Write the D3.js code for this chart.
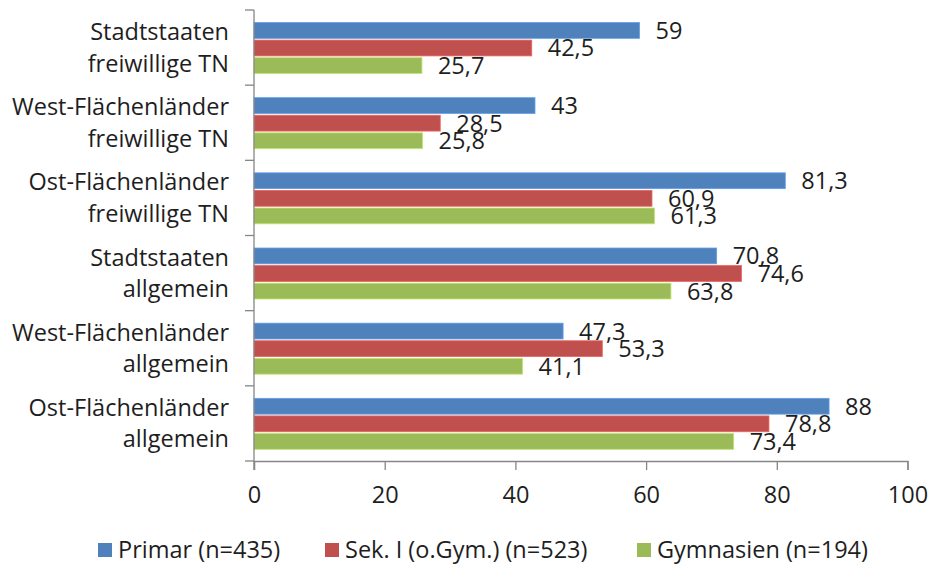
<!DOCTYPE html>
<html>
<head>
<meta charset="utf-8">
<script src="https://cdn.jsdelivr.net/npm/d3@7"></script>
<style>
  html, body { margin: 0; padding: 0; background: #fff; }
  svg { display: block; font-family: "Open Sans", "Noto Sans", sans-serif; }
</style>
</head>
<body>
<svg id="chart" width="930" height="566"></svg>
<script>
// Categories (two-line labels), top to bottom
const categories = [
  ["Stadtstaaten", "freiwillige TN"],
  ["West-Flächenländer", "freiwillige TN"],
  ["Ost-Flächenländer", "freiwillige TN"],
  ["Stadtstaaten", "allgemein"],
  ["West-Flächenländer", "allgemein"],
  ["Ost-Flächenländer", "allgemein"]
];
const seriesNames = ["Primar (n=435)", "Sek. I (o.Gym.) (n=523)", "Gymnasien (n=194)"];
const primar     = [59, 43, 81.3, 70.8, 47.3, 88];
const sekI       = [42.5, 28.5, 60.9, 74.6, 53.3, 78.8];
const gymnasien  = [25.7, 25.8, 61.3, 63.8, 41.1, 73.4];
const xTicks = [0, 20, 40, 60, 80, 100];
const colors = ["#4F81BD", "#C0504D", "#9BBB59"];

const series = [primar, sekI, gymnasien];
const svg = d3.select("#chart");
const FS = 23.5;
const textColor = "#1e1e1e";

const plot = { left: 254, right: 907.5, top: 10, bottom: 461 };

const x = d3.scaleLinear().domain([0, 100]).range([plot.left, plot.right]);
const y = d3.scaleBand().domain(d3.range(categories.length)).range([plot.top, plot.bottom]);
const inner = d3.scaleBand().domain(d3.range(series.length))
  .range([12.5, 63.5]).paddingInner(0.1);

const fmt = v => String(v).replace(".", ",");

// Bars and value labels
const groups = svg.append("g").selectAll("g")
  .data(categories).join("g")
  .attr("transform", (d, i) => `translate(0,${y(i)})`);

groups.each(function (c, ci) {
  const g = d3.select(this);
  series.forEach((vals, si) => {
    g.append("rect")
      .attr("x", x(0))
      .attr("y", inner(si))
      .attr("width", x(vals[ci]) - x(0))
      .attr("height", inner.bandwidth())
      .attr("fill", colors[si])
      .attr("stroke", d3.color(colors[si]).brighter(0.6))
      .attr("stroke-width", 0.8);
  });
  series.forEach((vals, si) => {
    g.append("text")
      .attr("x", x(vals[ci]) + 16)
      .attr("y", inner(si) + inner.bandwidth() / 2)
      .attr("dy", "0.36em")
      .attr("font-size", FS)
      .attr("fill", textColor)
      .text(fmt(vals[ci]));
  });
});

// Y axis line with band separators
const axisColor = "#868686";
svg.append("line")
  .attr("x1", plot.left).attr("x2", plot.left)
  .attr("y1", plot.top).attr("y2", plot.bottom + 9)
  .attr("stroke", axisColor).attr("stroke-width", 1.3);
d3.range(categories.length + 1).forEach(i => {
  const yy = plot.top + i * y.step();
  svg.append("line")
    .attr("x1", plot.left - 9).attr("x2", plot.left)
    .attr("y1", yy).attr("y2", yy)
    .attr("stroke", axisColor).attr("stroke-width", 1.3);
});

// Category labels
categories.forEach((lines, i) => {
  const cy = y(i) + y.bandwidth() / 2;
  const t = svg.append("text")
    .attr("text-anchor", "end")
    .attr("font-size", FS)
    .attr("fill", textColor);
  t.append("tspan").attr("x", 229).attr("y", cy - 7.5).text(lines[0]);
  t.append("tspan").attr("x", 229).attr("y", cy + 24).text(lines[1]);
});

// X axis
const xAxis = d3.axisBottom(x).tickValues(xTicks).tickSize(9).tickPadding(16).tickFormat(d3.format("d"));
const gx = svg.append("g").attr("transform", `translate(0,${plot.bottom})`).call(xAxis);
gx.select(".domain").attr("stroke", axisColor).attr("stroke-width", 1.3);
gx.selectAll(".tick line").attr("stroke", axisColor).attr("stroke-width", 1.3);
gx.selectAll(".tick text").attr("font-size", FS).attr("fill", textColor)
  .attr("font-family", "'Open Sans', 'Noto Sans', sans-serif");

// Legend
const legendTextX = [118, 345, 657];
const legend = svg.append("g");
seriesNames.forEach((name, i) => {
  legend.append("rect")
    .attr("x", legendTextX[i] - 20).attr("y", 543)
    .attr("width", 14).attr("height", 14)
    .attr("fill", colors[i]);
  legend.append("text")
    .attr("x", legendTextX[i]).attr("y", 558)
    .attr("font-size", FS).attr("fill", textColor)
    .text(name);
});
</script>
</body>
</html>
